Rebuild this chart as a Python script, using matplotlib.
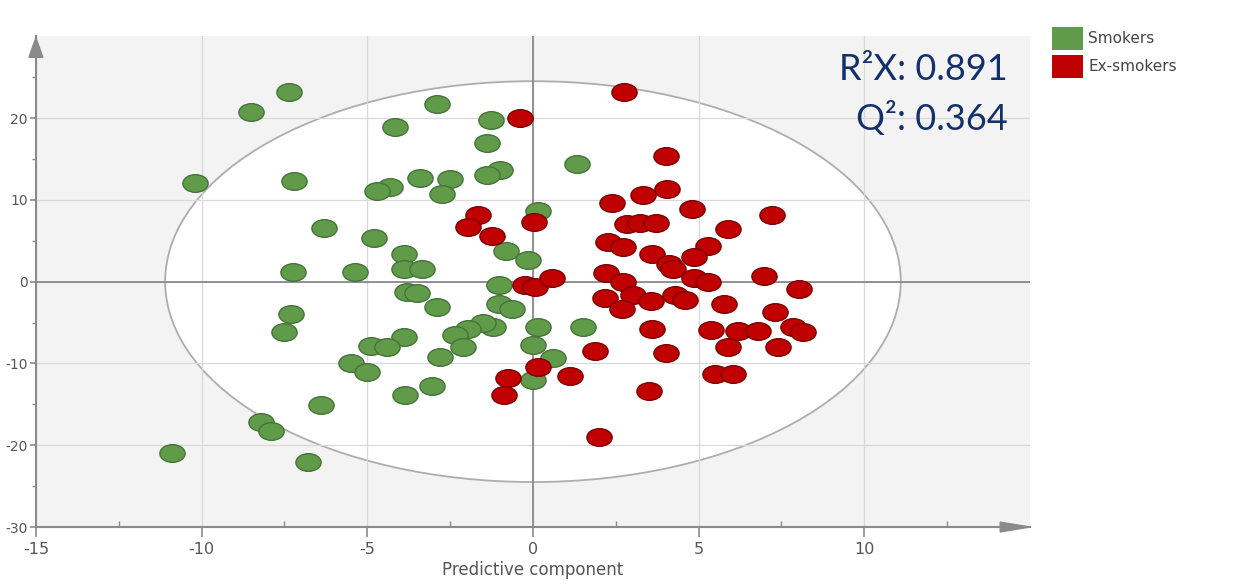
import matplotlib
matplotlib.use("Agg")
import matplotlib.pyplot as plt
from matplotlib.patches import Ellipse, Polygon, Rectangle
from matplotlib.path import Path
import numpy as np

plt.rcParams['axes.unicode_minus'] = False
plt.rcParams['font.family'] = ['DejaVu Sans']

# scores: (predictive component, orthogonal component)
smokers_x = [-8.5, -7.36, -10.2, -7.2, -6.3, -7.24, -5.36, -4.8, -4.15, -2.9,
             -1.27, -1.4, 1.33, -1.0, -1.4, -3.4, -2.5, -2.75, -4.3, -4.7,
             0.15, -0.8, -0.15, -3.9, -3.9, -3.36, -1.03, -7.3, -7.5, -4.9,
             -5.5, -5.0, -6.4, -8.2, -7.9, -10.9, -6.8, -3.8, -3.5, -2.9,
             -1.03, -0.64, 0.15, 1.5, 0.0, 0.6, 0.0, -1.2, -1.5, -1.97,
             -2.36, -2.1, -2.8, -3.9, -4.4, -3.06, -3.85]
smokers_y = [20.7, 23.2, 12.0, 12.3, 6.5, 1.2, 1.2, 5.3, 18.9, 21.7,
             19.8, 16.9, 14.4, 13.7, 13.0, 12.7, 12.5, 10.7, 11.6, 11.1,
             8.6, 3.8, 2.6, 3.4, 1.6, 1.6, -0.4, -4.0, -6.2, -7.9,
             -10.0, -11.1, -15.1, -17.2, -18.3, -20.9, -22.1, -1.3, -1.4, -3.1,
             -2.7, -3.3, -5.5, -5.5, -7.8, -9.3, -12.0, -5.5, -5.0, -5.8,
             -6.5, -8.0, -9.2, -6.8, -8.0, -12.7, -13.8]

ex_x = [-0.4, 2.76, 4.0, 4.06, 3.33, 2.4, 4.8, 7.2, 5.9, 2.85,
        3.24, 3.7, 2.27, 2.73, 3.6, 4.1, 5.27, 4.85, 4.24, 2.2,
        6.97, 4.85, 5.27, 8.03, 2.73, 2.18, 3.03, 3.55, 2.7, 4.3,
        4.6, 5.76, 7.3, 3.6, 5.36, 6.2, 6.8, 7.85, 8.15, 1.88,
        4.0, 5.9, 7.4, 5.5, 6.03, 3.5, 2.0, -1.67, -1.97, -1.24,
        0.03, -0.25, 0.05, 0.58, 0.15, -0.76, -0.88, 1.12]
ex_y = [20.0, 23.2, 15.4, 11.3, 10.6, 9.6, 8.9, 8.2, 6.4, 7.0,
        7.2, 7.2, 4.9, 4.2, 3.4, 2.1, 4.3, 3.0, 1.6, 1.0,
        0.7, 0.4, -0.1, -0.85, -0.1, -2.0, -1.6, -2.4, -3.3, -1.6,
        -2.2, -2.7, -3.7, -5.8, -5.9, -6.0, -6.0, -5.5, -6.1, -8.5,
        -8.7, -8.0, -8.0, -11.3, -11.3, -13.4, -19.0, 8.2, 6.7, 5.6,
        7.3, -0.4, -0.7, 0.5, -10.4, -11.8, -13.8, -11.5]

groups = ['Smokers', 'Ex-smokers']
group_colors = ['#609b4a', '#c00000']
edge_colors = ['#46733a', '#7e0000']
r2x = 0.891
q2 = 0.364
ellipse_w = 22.2
ellipse_h = 49.0

fig = plt.figure(figsize=(12.38, 5.85), dpi=100)
ax = fig.add_axes([0.029, 0.0991, 0.803, 0.839])
ax.set_facecolor('#f3f3f3')

ax.set_xlim(-15, 15)
ax.set_ylim(-30, 30)

# Hotelling ellipse
ax.add_patch(Ellipse((0, 0), ellipse_w, ellipse_h, facecolor='white',
                     edgecolor='#adadad', lw=1.3, zorder=0.2))

ax.set_axisbelow(True)
ax.set_xticks([-15, -10, -5, 0, 5, 10])
ax.set_yticks([-30, -20, -10, 0, 10, 20])
ax.set_xticks(np.arange(-12.5, 15, 5), minor=True)
ax.set_yticks(np.arange(-25, 30, 5), minor=True)
ax.grid(True, which='major', color='#d9d9d9', lw=0.9)

ax.axhline(0, color='#8a8a8a', lw=1.3, zorder=1.5)
ax.axvline(0, color='#8a8a8a', lw=1.3, zorder=1.5)

for sp in ['top', 'right']:
    ax.spines[sp].set_visible(False)
for sp in ['left', 'bottom']:
    ax.spines[sp].set_color('#8a8a8a')
    ax.spines[sp].set_linewidth(1.5)

ax.tick_params(axis='x', which='major', colors='#8a8a8a', labelcolor='#555555',
               labelsize=11.5, length=7, width=1.2, pad=4)
ax.tick_params(axis='y', which='major', colors='#8a8a8a', labelcolor='#555555',
               labelsize=10, length=4.5, width=1.2, pad=1.5)
ax.tick_params(axis='y', which='minor', colors='#8a8a8a', length=3, width=1)
ax.tick_params(axis='x', which='minor', colors='#8a8a8a', length=4, width=1, direction='in')

# arrow heads on the axes
ax.add_patch(Polygon([[-0.007, 0.957], [0.007, 0.957], [0, 0.997]], closed=True,
                     transform=ax.transAxes, color='#8a8a8a', clip_on=False, zorder=3))
ax.add_patch(Polygon([[0.970, -0.010], [0.970, 0.010], [1.0, 0]], closed=True,
                     transform=ax.transAxes, color='#8a8a8a', clip_on=False, zorder=3))

circ = Path.unit_circle()
marker = Path(circ.vertices * [1.0, 0.7], circ.codes)

ax.scatter(smokers_x, smokers_y, marker=marker, s=330, c=group_colors[0],
           edgecolors=edge_colors[0], linewidths=1.0, zorder=3)
ax.scatter(ex_x, ex_y, marker=marker, s=330, c=group_colors[1],
           edgecolors=edge_colors[1], linewidths=1.0, zorder=3)

ax.set_xlabel('Predictive component', fontsize=12, color='#555555', labelpad=3)

fig.text(0.814, 0.863, 'R²X: %.3f' % r2x, ha='right', va='baseline',
         fontsize=26, color='#14306b', family=['Lato', 'DejaVu Sans'])
fig.text(0.814, 0.778, 'Q²: %.3f' % q2, ha='right', va='baseline',
         fontsize=26, color='#14306b', family=['Lato', 'DejaVu Sans'])

# legend
for i, (name, col) in enumerate(zip(groups, group_colors)):
    y0 = 0.9145 - i * 0.0478
    fig.add_artist(Rectangle((0.8498, y0), 0.025, 0.0393, transform=fig.transFigure,
                             facecolor=col, edgecolor='none'))
    fig.text(0.879, y0 + 0.0196, name, ha='left', va='center', fontsize=11,
             color='#444444')

fig.savefig('out.png', dpi=100)
